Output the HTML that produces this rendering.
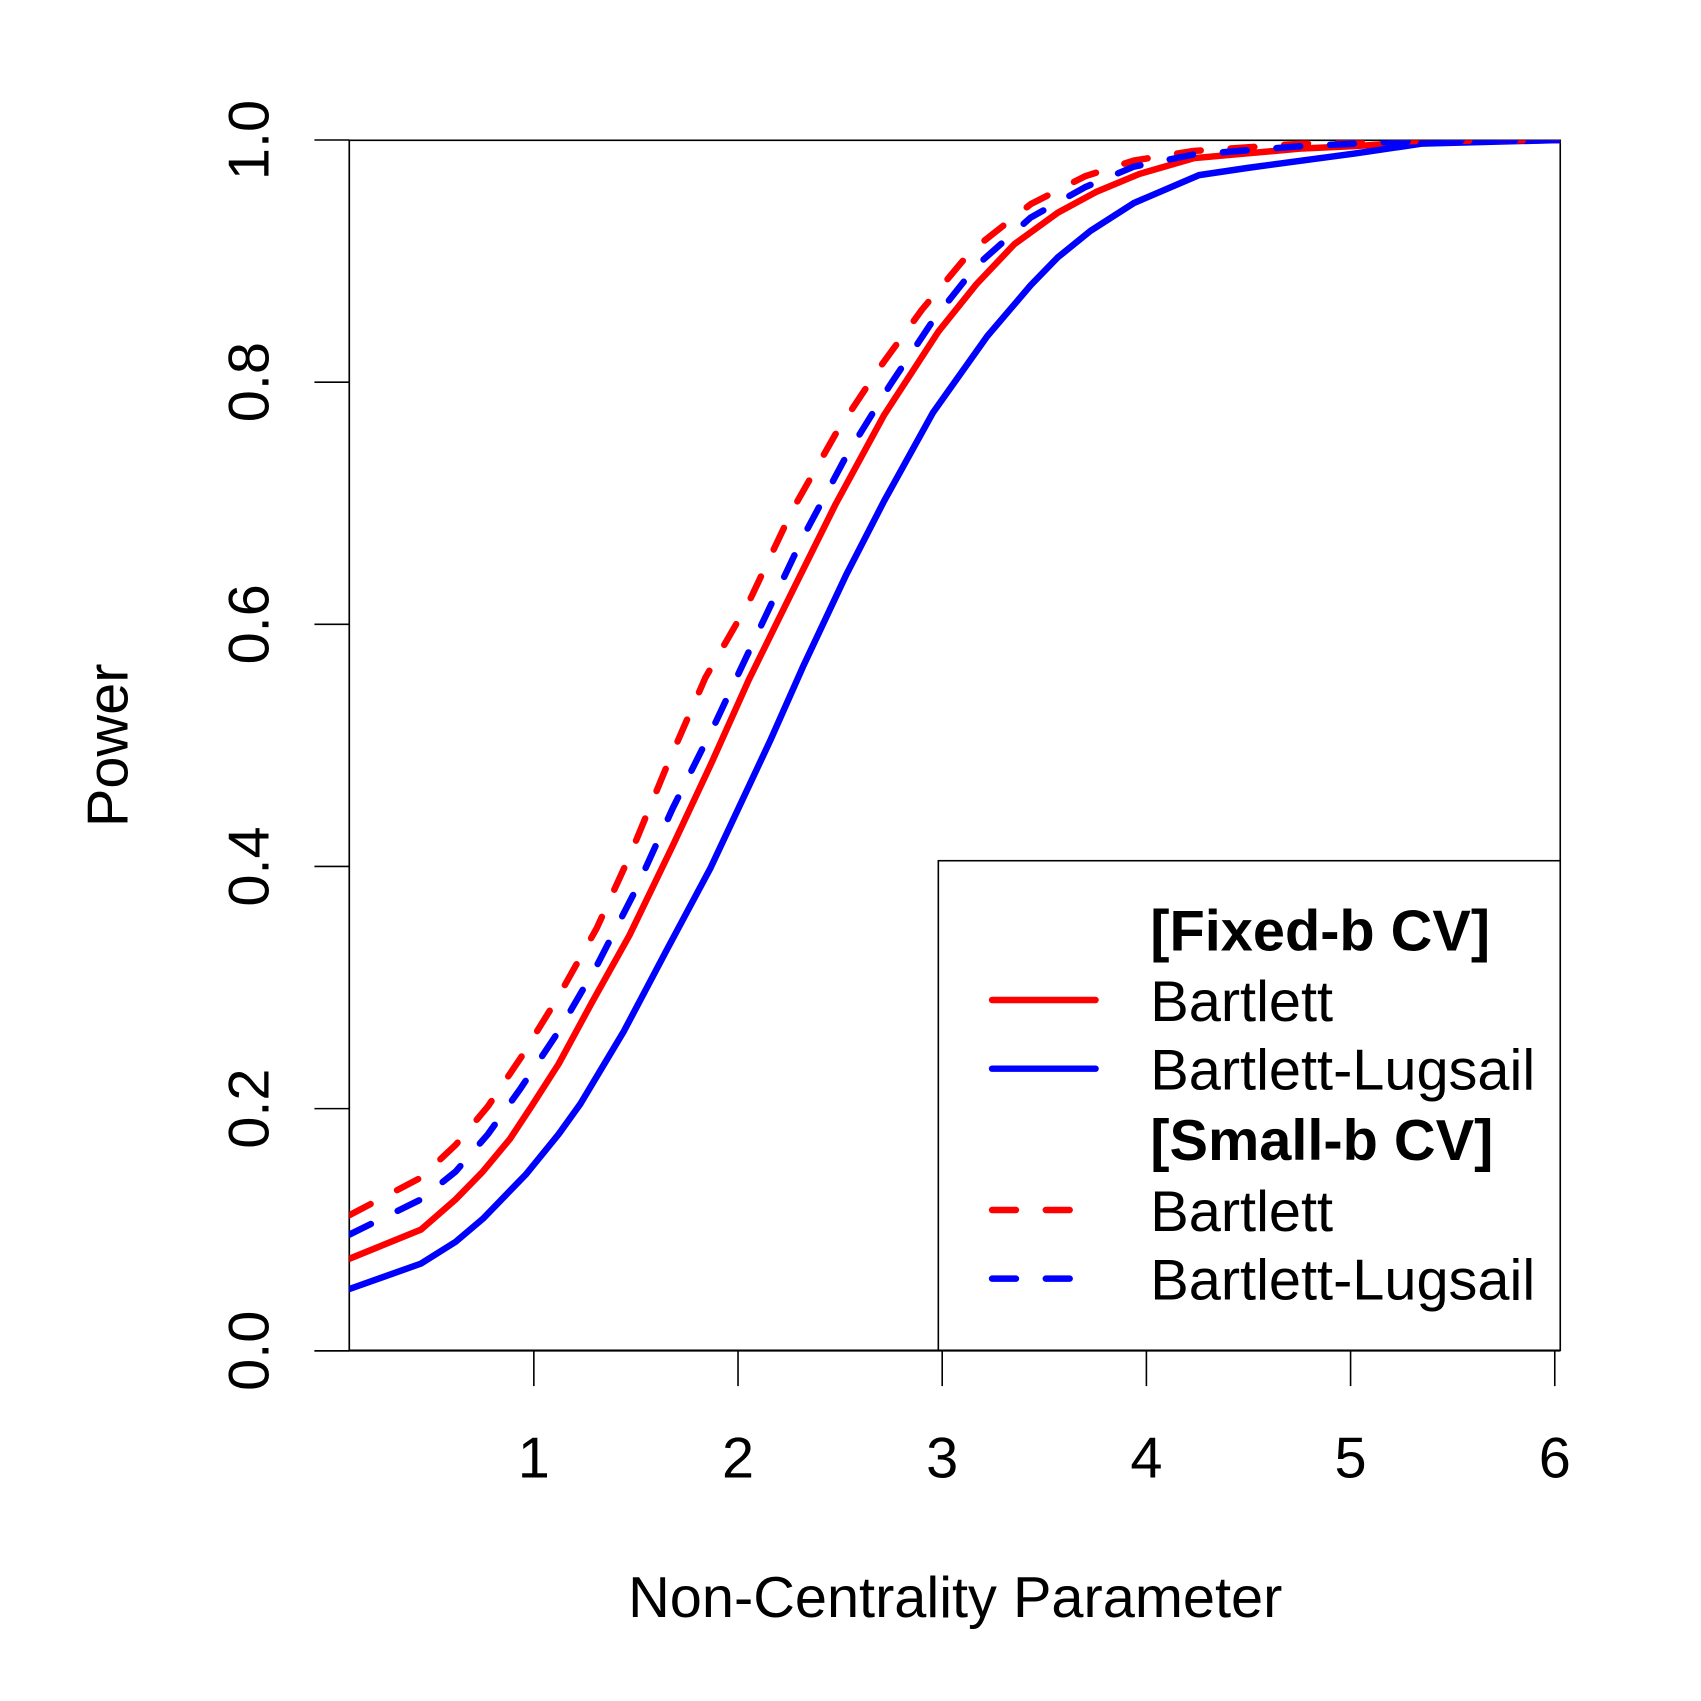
<!DOCTYPE html>
<html><head><meta charset="utf-8"><style>
html,body{margin:0;padding:0;background:#fff}
svg{display:block;font-family:"Liberation Sans",Arial,sans-serif}
</style></head><body>
<svg id="chart" width="1701" height="1701" viewBox="0 0 1701 1701">
<defs><clipPath id="pc"><rect x="351" y="141" width="1217" height="1216"/></clipPath></defs>
<g transform="scale(0.99505)">
<g id="axes"></g>
<g id="series" clip-path="url(#pc)"></g>
<g id="legend"></g>
</g>
</svg>
<script>
const xTicks=[1,2,3,4,5,6];
const yTicks=[0,0.2,0.4,0.6,0.8,1.0];
const yTickLabels=["0.0","0.2","0.4","0.6","0.8","1.0"];
const fixedBartlettX=[0.097,0.447,0.617,0.750,0.883,0.989,1.122,1.282,1.468,1.680,1.866,2.052,2.265,2.477,2.716,2.982,3.168,3.354,3.567,3.753,3.966,4.231,4.497,4.763,5.028,5.294,6.027];
const fixedBartlettY=[0.076,0.100,0.125,0.148,0.175,0.202,0.237,0.287,0.343,0.417,0.484,0.554,0.627,0.699,0.773,0.842,0.881,0.914,0.940,0.957,0.972,0.985,0.989,0.993,0.995,0.998,1.0];
const fixedLugsailX=[0.097,0.447,0.617,0.750,0.963,1.122,1.228,1.441,1.654,1.866,2.158,2.318,2.530,2.716,2.955,3.221,3.433,3.566,3.726,3.939,4.258,4.497,5.028,5.347,6.027];
const fixedLugsailY=[0.051,0.072,0.090,0.109,0.146,0.179,0.204,0.264,0.332,0.399,0.504,0.565,0.641,0.702,0.775,0.838,0.880,0.903,0.925,0.948,0.971,0.977,0.989,0.997,1.0];
const smallBartlettX=[0.097,0.447,0.617,0.776,0.936,1.122,1.308,1.468,1.654,1.840,2.052,2.265,2.477,2.689,2.901,3.140,3.433,3.699,3.938,4.231,4.763,5.294,6.027];
const smallBartlettY=[0.112,0.143,0.170,0.202,0.242,0.293,0.349,0.408,0.484,0.556,0.618,0.694,0.757,0.811,0.860,0.908,0.947,0.970,0.983,0.991,0.997,0.999,1.0];
const smallLugsailX=[0.097,0.447,0.617,0.776,0.936,1.122,1.308,1.494,1.680,1.893,2.105,2.318,2.530,2.742,2.955,3.167,3.433,3.699,3.938,4.231,4.763,5.294,6.027];
const smallLugsailY=[0.096,0.125,0.148,0.179,0.217,0.264,0.318,0.379,0.448,0.520,0.596,0.672,0.739,0.797,0.851,0.896,0.936,0.961,0.978,0.988,0.995,0.999,1.0];

const NS="http://www.w3.org/2000/svg";
const sx=v=>331.3+205.2*v;
const sy=v=>1357.5-1216.8*v;
function mk(tag,attrs,parent){const e=document.createElementNS(NS,tag);for(const k in attrs)e.setAttribute(k,attrs[k]);parent.appendChild(e);return e;}
const axes=document.getElementById('axes');
let box=mk('rect',{x:351,y:141,width:1217,height:1216,fill:'none',stroke:'#000','stroke-width':1.6},axes);


let xl=mk('line',{x1:316,y1:1357.5,x2:1568,y2:1357.5,stroke:'#000','stroke-width':1.6},axes);


let yl=mk('line',{x1:351,y1:141,x2:351,y2:1357.5,stroke:'#000','stroke-width':1.6},axes);


xTicks.forEach(v=>{
 const t=mk('line',{x1:sx(v),x2:sx(v),y1:1357.5,y2:1393,stroke:'#000','stroke-width':1.6},axes);
 
 
 const l=mk('text',{x:sx(v),y:1485,'font-size':58,'text-anchor':'middle'},axes);l.textContent=v;
 
 
});
yTicks.forEach((v,i)=>{
 const t=mk('line',{x1:316,x2:351,y1:sy(v),y2:sy(v),stroke:'#000','stroke-width':1.6},axes);
 
 
 const l=mk('text',{x:0,y:0,'font-size':58,'text-anchor':'middle',transform:`translate(270,${sy(v)}) rotate(-90)`},axes);l.textContent=yTickLabels[i];
 
 
});
let xt=mk('text',{x:960,y:1625,'font-size':58,'text-anchor':'middle'},axes);xt.textContent='Non-Centrality Parameter';


let yt=mk('text',{x:0,y:0,'font-size':58,'text-anchor':'middle',transform:'translate(128,749) rotate(-90)'},axes);yt.textContent='Power';



const series=document.getElementById('series');
function line(xs,ys,color,dash,name){
 const d=xs.map((x,i)=>(i?'L':'M')+sx(x).toFixed(1)+' '+sy(ys[i]).toFixed(1)).join(' ');
 const p=mk('path',{d,fill:'none',stroke:color,'stroke-width':6.5,'stroke-linecap':'round','stroke-linejoin':'round'},series);
 if(dash)p.setAttribute('stroke-dasharray','24 30');
 
 
}
line(fixedBartlettX,fixedBartlettY,'#ff0000',false,'fixed-b-bartlett-line');
line(fixedLugsailX,fixedLugsailY,'#0000ff',false,'fixed-b-lugsail-line');
line(smallBartlettX,smallBartlettY,'#ff0000',true,'small-b-bartlett-line');
line(smallLugsailX,smallLugsailY,'#0000ff',true,'small-b-lugsail-line');

const lg=document.getElementById('legend');
let lb=mk('rect',{x:943,y:865,width:625,height:492,fill:'#fff',stroke:'#000','stroke-width':1.6},lg);


const rows=[["[Fixed-b CV]",null,false,true],["Bartlett",'#ff0000',false,false],["Bartlett-Lugsail",'#0000ff',false,false],["[Small-b CV]",null,false,true],["Bartlett",'#ff0000',true,false],["Bartlett-Lugsail",'#0000ff',true,false]];
const rowY=[934,1005,1074,1145,1216,1285];
rows.forEach((r,i)=>{
 const y=rowY[i];
 if(r[1]){
  const s=mk('line',{x1:997,x2:1101,y1:y,y2:y,stroke:r[1],'stroke-width':6.5,'stroke-linecap':'round'},lg);
  if(r[2])s.setAttribute('stroke-dasharray','24 30');
  
  
 }
 const t=mk('text',{x:1156,y:y+21,'font-size':58,'font-weight':r[3]?'bold':'normal'},lg);t.textContent=r[0];
 
 
});
</script>
</body></html>
